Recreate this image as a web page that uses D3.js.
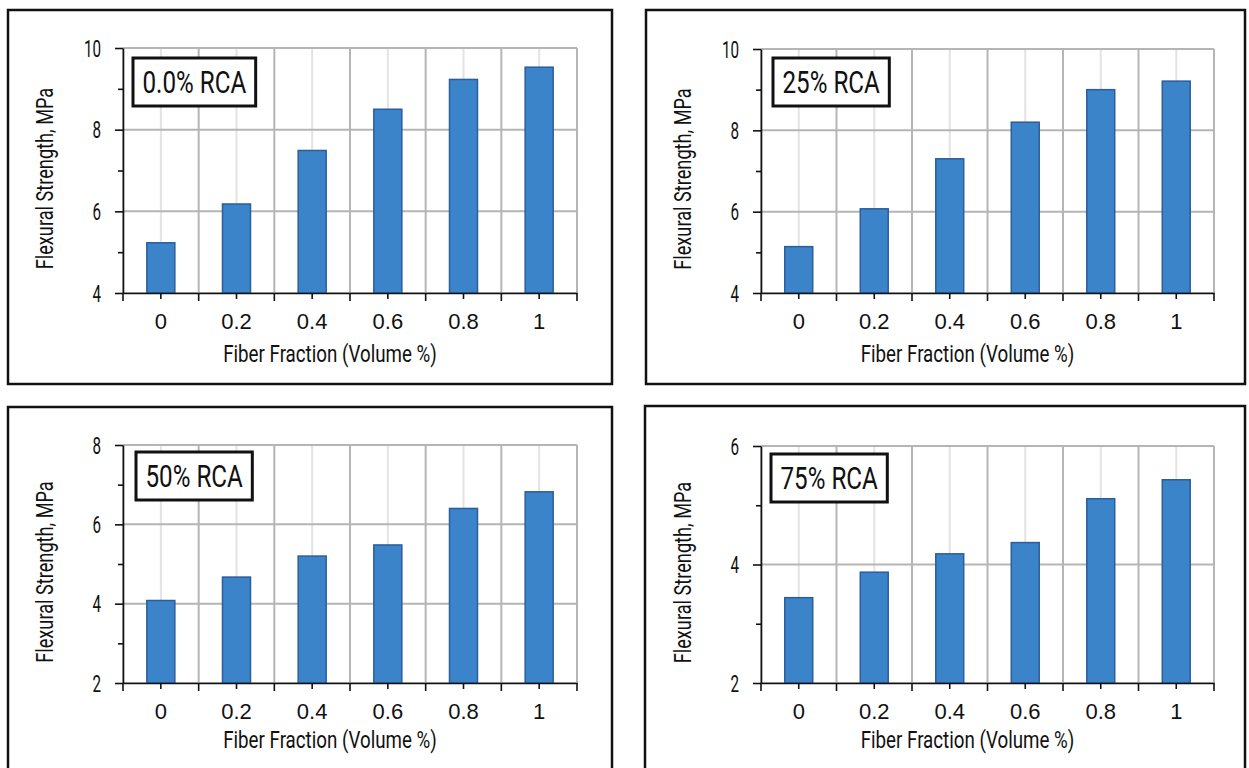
<!DOCTYPE html>
<html>
<head>
<meta charset="utf-8">
<script src="https://cdn.jsdelivr.net/npm/d3@7"></script>
<style>
  body { margin: 0; background: #fff; }
  svg { display: block; }
  .narrow { font-family: Roboto, "Liberation Sans", sans-serif; font-weight: 400; }
  .xlab { font-family: "Liberation Sans", Arial, sans-serif; }
</style>
</head>
<body>
<div id="chart"></div>
<script>
// categories on the x axis
const fiberFractions = ["0", "0.2", "0.4", "0.6", "0.8", "1"]

// flexural strength (MPa)
const rca0 = [5.23, 6.18, 7.49, 8.5, 9.23, 9.53]
const rca25 = [5.14, 6.07, 7.3, 8.2, 9.0, 9.21]
const rca50 = [4.08, 4.67, 5.2, 5.48, 6.4, 6.82]
const rca75 = [3.44, 3.87, 4.18, 4.37, 5.11, 5.43]

const panelLabels = ["0.0% RCA", "25% RCA", "50% RCA", "75% RCA"]

// y axis ticks (labelled majors, unlabelled minors)
const yMajor0 = [4, 6, 8, 10]
const yMinor0 = [5, 7, 9]
const yMajor50 = [2, 4, 6, 8]
const yMinor50 = [3, 5, 7]
const yMajor75 = [2, 4, 6]
const yMinor75 = [3, 5]

const xTitle = "Fiber Fraction (Volume %)"
const yTitle = "Flexural Strength, MPa"

const WIDTH = 1249
const HEIGHT = 768

const svg = d3.select("#chart").append("svg")
  .attr("width", WIDTH)
  .attr("height", HEIGHT)

// layout of the four framed panels
const panels = [
  { x: 8, y: 10, w: 604, h: 374, values: rca0, label: panelLabels[0], majors: yMajor0, minors: yMinor0,
    plot: { left: 115, top: 38, width: 454, height: 245 }, box: { dx: 10, dy: 10 }, titleGap: 69 },
  { x: 646, y: 10, w: 599, h: 374, values: rca25, label: panelLabels[1], majors: yMajor0, minors: yMinor0,
    plot: { left: 115, top: 39, width: 453, height: 244 }, box: { dx: 12, dy: 9 }, titleGap: 69 },
  { x: 8, y: 407, w: 604, h: 380, values: rca50, label: panelLabels[2], majors: yMajor50, minors: yMinor50,
    plot: { left: 115, top: 38, width: 454, height: 238 }, box: { dx: 13, dy: 7 }, titleGap: 65 },
  { x: 645, y: 406, w: 600, h: 380, values: rca75, label: panelLabels[3], majors: yMajor75, minors: yMinor75,
    plot: { left: 116, top: 40, width: 453, height: 237 }, box: { dx: 10, dy: 8 }, titleGap: 65 }
]

// squeeze text horizontally to imitate the condensed face of the original
function condense(sel, k) {
  sel.each(function() {
    const w = this.getComputedTextLength()
    d3.select(this)
      .attr("textLength", w * k)
      .attr("lengthAdjust", "spacingAndGlyphs")
  })
}

panels.forEach(drawPanel)

function drawPanel(p) {
  const g = svg.append("g")
    .attr("transform", `translate(${p.x},${p.y})`)

  g.append("rect")
    .attr("width", p.w)
    .attr("height", p.h)
    .attr("fill", "none")
    .attr("stroke", "#111")
    .attr("stroke-width", 2.5)

  const W = p.plot.width
  const H = p.plot.height
  const plot = g.append("g")
    .attr("transform", `translate(${p.plot.left},${p.plot.top})`)

  const x = d3.scaleBand()
    .domain(fiberFractions)
    .range([0, W])
  const y = d3.scaleLinear()
    .domain(d3.extent(p.majors))
    .range([H, 0])

  const bw = x.bandwidth()
  const edges = fiberFractions.map(d => x(d)).concat([W])

  // light grid through category centres
  plot.append("g").selectAll("line")
    .data(fiberFractions)
    .join("line")
      .attr("x1", d => x(d) + bw / 2)
      .attr("x2", d => x(d) + bw / 2)
      .attr("y1", 0)
      .attr("y2", H)
      .attr("stroke", "#e3e3e3")
      .attr("stroke-width", 2)

  // darker grid on category edges
  plot.append("g").selectAll("line")
    .data(edges)
    .join("line")
      .attr("x1", d => d)
      .attr("x2", d => d)
      .attr("y1", 0)
      .attr("y2", H)
      .attr("stroke", "#b5b5b5")
      .attr("stroke-width", 2)

  plot.append("g").selectAll("line")
    .data(p.majors)
    .join("line")
      .attr("x1", 0)
      .attr("x2", W)
      .attr("y1", d => y(d))
      .attr("y2", d => y(d))
      .attr("stroke", "#b5b5b5")
      .attr("stroke-width", 2)

  // bars
  const barW = bw * 0.37
  plot.append("g").selectAll("rect")
    .data(p.values)
    .join("rect")
      .attr("x", (d, i) => x(fiberFractions[i]) + (bw - barW) / 2)
      .attr("y", d => y(d))
      .attr("width", barW)
      .attr("height", d => H - y(d))
      .attr("fill", "#3c84c9")
      .attr("stroke", "#2a5d9c")
      .attr("stroke-width", 1.5)

  // y axis
  const yAxis = plot.append("g")
    .call(d3.axisLeft(y).tickValues(p.majors).tickSize(8).tickPadding(14)
      .tickFormat(d3.format("d")).tickSizeOuter(0))
  plot.append("g")
    .call(d3.axisLeft(y).tickValues(p.minors).tickSize(5).tickFormat("").tickSizeOuter(0))
    .select(".domain").remove()

  // x axis
  const xAxis = plot.append("g")
    .attr("transform", `translate(0,${H})`)
    .call(d3.axisBottom(x).tickSize(6).tickPadding(14).tickSizeOuter(0))

  xAxis.selectAll("line.edge")
    .data(edges)
    .join("line")
      .attr("class", "edge")
      .attr("x1", d => d)
      .attr("x2", d => d)
      .attr("y1", 0)
      .attr("y2", 8)

  plot.selectAll(".domain, .tick line, line.edge")
    .attr("stroke", "#111")
    .attr("stroke-width", 1.6)

  yAxis.selectAll("text")
    .attr("class", "narrow")
    .attr("fill", "#111")
    .attr("font-size", "23px")
    .attr("dy", "0.36em")
    .call(condense, 0.66)
  xAxis.selectAll("text")
    .attr("class", "xlab")
    .attr("fill", "#111")
    .attr("font-size", "22px")

  // axis titles
  plot.append("text")
    .attr("class", "narrow")
    .attr("x", W / 2 - 20)
    .attr("y", H + p.titleGap)
    .attr("text-anchor", "middle")
    .attr("font-size", "24px")
    .attr("fill", "#111")
    .text(xTitle)
    .call(condense, 0.78)

  plot.append("text")
    .attr("class", "narrow")
    .attr("transform", `translate(-70,${H / 2 + 8}) rotate(-90)`)
    .attr("text-anchor", "middle")
    .attr("font-size", "23px")
    .attr("fill", "#111")
    .text(yTitle)
    .call(condense, 0.79)

  // boxed panel label
  const box = plot.append("g")
    .attr("transform", `translate(${p.box.dx},${p.box.dy})`)
  const rect = box.append("rect")
    .attr("fill", "#fff")
    .attr("stroke", "#111")
    .attr("stroke-width", 3)
  const label = box.append("text")
    .attr("class", "narrow")
    .attr("font-size", "31px")
    .attr("fill", "#111")
    .attr("text-anchor", "middle")
    .text(p.label)
    .call(condense, 0.78)
  const tw = +label.attr("textLength")
  const boxW = tw + 19
  rect.attr("width", boxW).attr("height", 48)
  label.attr("x", boxW / 2).attr("y", 35)
}
</script>
</body>
</html>
